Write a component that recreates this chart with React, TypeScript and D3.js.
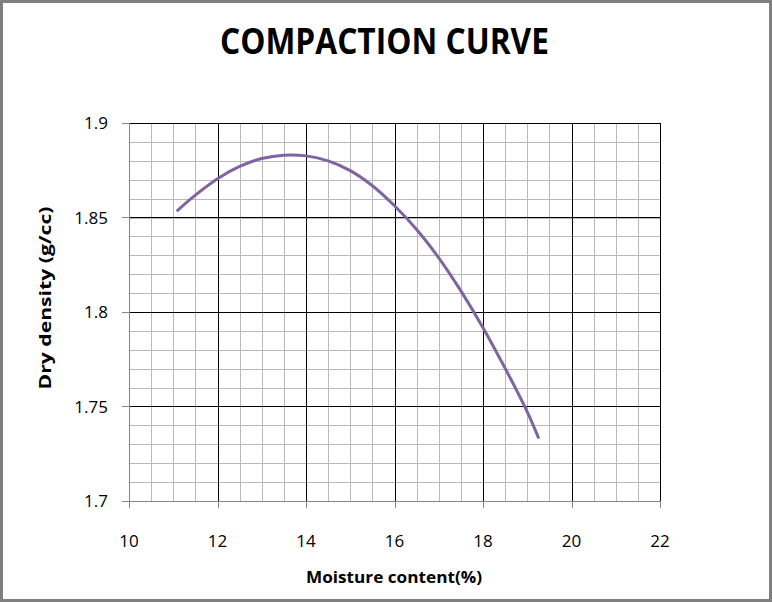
import React from "react";
import * as d3 from "d3";

const moisture = [11.1, 11.5, 12, 12.5, 13, 13.5, 14, 14.5, 15, 15.5, 16, 16.5, 17, 17.5, 18, 18.5, 19, 19.25];
const density = [1.8538, 1.8618, 1.8705, 1.877, 1.8812, 1.883, 1.8826, 1.88, 1.8748, 1.8668, 1.8562, 1.8437, 1.8287, 1.8112, 1.7917, 1.7702, 1.7472, 1.7337];
const xTicks = [10, 12, 14, 16, 18, 20, 22];
const yTicks = [1.7, 1.75, 1.8, 1.85, 1.9];
const title = "COMPACTION CURVE";
const xTitle = "Moisture content(%)";
const yTitle = "Dry density (g/cc)";

const W = 772;
const H = 602;
const left = 129;
const right = 660;
const top = 123;
const bottom = 501;

export default function App() {
  const x = d3.scaleLinear().domain([10, 22]).range([left, right]);
  const y = d3.scaleLinear().domain([1.7, 1.9]).range([bottom, top]);
  const xMinor = d3.range(10, 22.001, 0.5);
  const yMinor = d3.range(1.7, 1.9001, 0.01);
  const pts: [number, number][] = moisture.map((m, i) => [m, density[i]]);
  const line = d3
    .line<[number, number]>()
    .x((d) => x(d[0]))
    .y((d) => y(d[1]))
    .curve(d3.curveCatmullRom.alpha(0.5));
  const font = "'Open Sans', sans-serif";
  const r = (v: number) => Math.round(v) + 0.5;
  return (
    <svg
      width={W}
      height={H}
      style={{ position: "absolute", left: 0, top: 0, background: "#fff" }}
    >
      <rect x={0} y={0} width={W} height={H} fill="#fff" />
      <rect x={1.5} y={1.5} width={W - 3} height={H - 3} fill="none" stroke="#7f7f7f" strokeWidth={3} />
      <text
        x={384.5}
        y={54}
        textAnchor="middle"
        fontFamily={font}
        fontWeight="bold"
        fontSize={36}
        textLength={329}
        lengthAdjust="spacingAndGlyphs"
        fill="#000"
      >
        {title}
      </text>
      {xMinor.map((v, i) => (
        <line key={"xm" + i} x1={r(x(v))} x2={r(x(v))} y1={top} y2={bottom} stroke="#b9b9b9" strokeWidth={1} />
      ))}
      {yMinor.map((v, i) => (
        <line key={"ym" + i} x1={left} x2={right} y1={r(y(v))} y2={r(y(v))} stroke="#b9b9b9" strokeWidth={1} />
      ))}
      {xTicks.slice(1).map((v) => (
        <line key={"xM" + v} x1={r(x(v))} x2={r(x(v))} y1={top} y2={bottom} stroke="#000" strokeWidth={1} />
      ))}
      {yTicks.slice(1).map((v) => (
        <line key={"yM" + v} x1={left} x2={right} y1={r(y(v))} y2={r(y(v))} stroke="#000" strokeWidth={1} />
      ))}
      <line x1={r(left)} x2={r(left)} y1={top} y2={r(bottom)} stroke="#868686" />
      <line x1={left} x2={right + 1} y1={r(bottom)} y2={r(bottom)} stroke="#868686" />
      {yTicks.map((v) => (
        <g key={"yt" + v}>
          <line x1={left - 7} x2={left} y1={r(y(v))} y2={r(y(v))} stroke="#868686" />
          <text x={108} y={y(v) + 6} textAnchor="end" fontFamily={font} fontSize={17} fill="#000">
            {String(v)}
          </text>
        </g>
      ))}
      {xTicks.map((v) => (
        <g key={"xt" + v}>
          <line x1={r(x(v))} x2={r(x(v))} y1={bottom} y2={bottom + 7} stroke="#868686" />
          <text x={x(v)} y={547} textAnchor="middle" fontFamily={font} fontSize={17} fill="#000">
            {String(v)}
          </text>
        </g>
      ))}
      <path d={line(pts) || ""} fill="none" stroke="#7e64a0" strokeWidth={3} strokeLinecap="round" />
      <text
        x={394}
        y={583}
        textAnchor="middle"
        fontFamily={font}
        fontWeight="bold"
        fontSize={16}
        textLength={176}
        lengthAdjust="spacingAndGlyphs"
        fill="#000"
      >
        {xTitle}
      </text>
      <text
        transform={`translate(51,298) rotate(-90)`}
        textAnchor="middle"
        fontFamily={font}
        fontWeight="bold"
        fontSize={16}
        textLength={183}
        lengthAdjust="spacingAndGlyphs"
        fill="#000"
      >
        {yTitle}
      </text>
    </svg>
  );
}
